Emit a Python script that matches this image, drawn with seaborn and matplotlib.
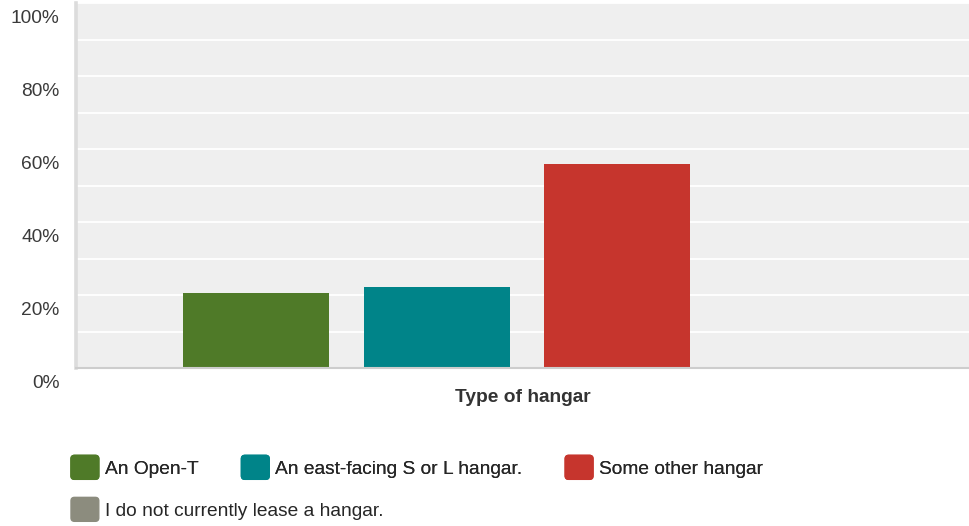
import matplotlib
matplotlib.use("Agg")
import matplotlib.pyplot as plt
import matplotlib.patches as mpatches
from matplotlib.legend_handler import HandlerPatch
from matplotlib.transforms import ScaledTranslation
import pandas as pd
import seaborn as sns

# data
categories = ["An Open-T", "An east-facing S or L hangar.", "Some other hangar",
              "I do not currently lease a hangar."]
percent = [20.5, 22.2, 55.9, 0.0]
colors = ["#4f7a28", "#008489", "#c6352d", "#8c8c7e"]
y_ticks = [0, 20, 40, 60, 80, 100]
y_labels = ["0%", "20%", "40%", "60%", "80%", "100%"]

df = pd.DataFrame({"answer": categories, "pct": percent})

sns.set_style("white")
plt.rcParams["font.family"] = ["Liberation Sans", "DejaVu Sans"]

fig = plt.figure(figsize=(9.69, 5.26), dpi=100)
ax = fig.add_axes([76 / 969, 158 / 526, 893 / 969, 365 / 526])
ax.set_facecolor("#efefef")

sns.barplot(data=df, x="answer", y="pct", hue="answer", palette=colors,
            width=0.81, legend=False, saturation=1, linewidth=0, ax=ax)

ax.set_xlim(-1.0, 3.95)
ax.set_ylim(0, 100)
ax.set_yticks(y_ticks)
ax.set_yticklabels(y_labels)
ax.set_yticks(range(10, 100, 20), minor=True)
ax.grid(axis="y", which="both", color="white", linewidth=1.3)
ax.set_axisbelow(True)
ax.tick_params(axis="y", which="both", length=0, pad=12, labelsize=13.8, labelcolor="#3a3a3a")
ax.set_xticks([])
ax.set_ylabel("")
ax.set_xlabel("Type of hangar", fontsize=13.8, fontweight="bold", color="#333333", labelpad=15)

# labels sit a little below their gridlines
shift = ScaledTranslation(0, -0.135, fig.dpi_scale_trans)
for lab in ax.get_yticklabels():
    lab.set_transform(lab.get_transform() + shift)

for side in ["top", "right"]:
    ax.spines[side].set_visible(False)
ax.spines["left"].set_color("#dcdcdc")
ax.spines["left"].set_linewidth(2.6)
ax.spines["bottom"].set_color("#cdcdcd")
ax.spines["bottom"].set_linewidth(1.5)


def rounded(legend, orig_handle, xdescent, ydescent, width, height, fontsize):
    return mpatches.FancyBboxPatch((-xdescent + 1, -ydescent - 1), width - 2, height + 2,
                                   boxstyle="round,pad=1,rounding_size=2.5")


handles = [mpatches.Patch(facecolor=c, edgecolor=c) for c in colors]
hmap = {mpatches.Patch: HandlerPatch(patch_func=rounded)}
leg_kw = dict(frameon=False, fontsize=13.8, handlelength=1.45, handleheight=1.1,
              handletextpad=0.3, columnspacing=2.25, borderaxespad=0, borderpad=0,
              handler_map=hmap, loc="center left")
leg1 = fig.legend(handles[:3], categories[:3], ncol=3,
                  bbox_to_anchor=(71 / 969, 1 - 468 / 526), **leg_kw)
fig.add_artist(leg1)
fig.legend(handles[3:], categories[3:], ncol=1,
           bbox_to_anchor=(71 / 969, 1 - 510 / 526), **leg_kw)

fig.savefig("out.png", dpi=100)
